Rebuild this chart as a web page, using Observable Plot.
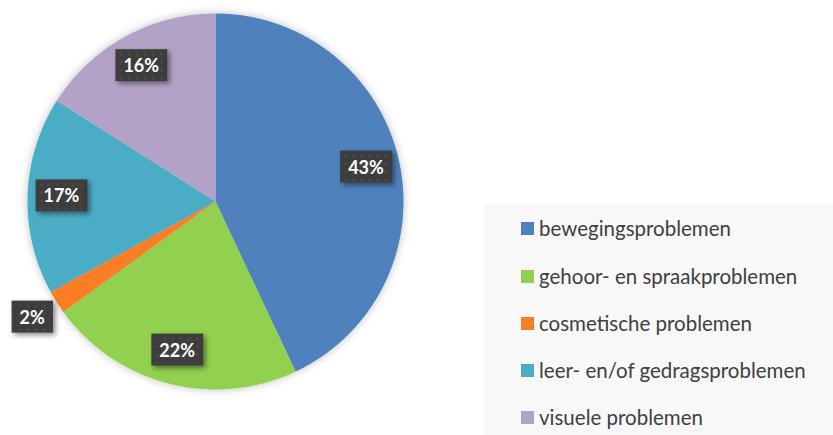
<!DOCTYPE html>
<html>
<head>
<meta charset="utf-8">
<script src="https://cdn.jsdelivr.net/npm/d3@7"></script>
<script src="https://cdn.jsdelivr.net/npm/@observablehq/plot@0.6"></script>
<style>
  html, body { margin: 0; padding: 0; background: #fff; }
  #wrap { position: relative; width: 833px; height: 435px; overflow: hidden; }
  #legend { position: absolute; left: 484px; top: 204px; width: 349px; height: 231px; background: #f8f8f8; font-family: Lato, "Open Sans", sans-serif; font-size: 20.5px; color: #404040; }
  .item { position: absolute; left: 37px; height: 24px; display: flex; align-items: center; white-space: nowrap; }
  .sw { width: 13px; height: 13px; margin-right: 5px; flex: none; }
</style>
</head>
<body>
<div id="wrap"><div id="chart"></div><div id="legend"></div></div>
<script>
const categories = ["bewegingsproblemen", "gehoor- en spraakproblemen", "cosmetische problemen", "leer- en/of gedragsproblemen", "visuele problemen"];
const values = [43, 22, 2, 17, 16];
const colors = ["#4f81bd", "#92d050", "#fb7d26", "#4bacc6", "#b3a2c7"];
const labels = ["43%", "22%", "2%", "17%", "16%"];

const total = d3.sum(values);
const slicePts = [];
const labelPts = [];
let acc = 0;
values.forEach((v, i) => {
  const a0 = acc / total * 2 * Math.PI;
  const a1 = (acc + v) / total * 2 * Math.PI;
  slicePts.push({cat: categories[i], x: 0, y: 0});
  const n = Math.max(4, Math.ceil((a1 - a0) / 0.01));
  for (let k = 0; k <= n; k++) {
    const a = a0 + (a1 - a0) * k / n;
    slicePts.push({cat: categories[i], x: Math.sin(a), y: Math.cos(a)});
  }
  const am = (a0 + a1) / 2;
  const rf = v < 5 ? 1.155 : 0.82;
  labelPts.push({cat: categories[i], text: labels[i], x: rf * Math.sin(am), y: rf * Math.cos(am)});
  acc += v;
});

const plot = Plot.plot({
  width: 833,
  height: 435,
  marginLeft: 27,
  marginRight: 430,
  marginTop: 13,
  marginBottom: 46,
  x: {domain: [-1, 1], axis: null},
  y: {domain: [-1, 1], axis: null},
  color: {domain: categories, range: colors},
  style: {background: "transparent", overflow: "visible"},
  marks: [
    Plot.line(slicePts, {x: "x", y: "y", z: "cat", fill: "cat", stroke: "none", curve: "linear-closed", className: "slices"}),
    Plot.text(labelPts, {x: "x", y: "y", text: "text", fill: "white", fontWeight: "bold", fontSize: 18, fontFamily: "Lato, 'Open Sans', sans-serif", className: "lbls"})
  ]
});
document.getElementById("chart").appendChild(plot);

// defs: pattern + shadows
const svg = d3.select(plot);
const defs = svg.insert("defs", ":first-child");
const pat = defs.append("pattern").attr("id", "dots").attr("width", 8).attr("height", 8).attr("patternUnits", "userSpaceOnUse");
pat.append("rect").attr("width", 8).attr("height", 8).attr("fill", "#3d3d3d");
pat.append("circle").attr("cx", 4).attr("cy", 4).attr("r", 1.6).attr("fill", "#494949");
const sh = defs.append("filter").attr("id", "shadow").attr("x", "-30%").attr("y", "-30%").attr("width", "170%").attr("height", "170%");
sh.append("feDropShadow").attr("dx", 2.5).attr("dy", 2.5).attr("stdDeviation", 2.5).attr("flood-color", "#000").attr("flood-opacity", 0.45);
const psh = defs.append("filter").attr("id", "pieshadow").attr("x", "-10%").attr("y", "-10%").attr("width", "120%").attr("height", "120%");
psh.append("feDropShadow").attr("dx", 0).attr("dy", 0).attr("stdDeviation", 4).attr("flood-color", "#000").attr("flood-opacity", 0.25);
svg.select("g.slices").attr("filter", "url(#pieshadow)");

svg.selectAll("g.lbls text").each(function() {
  const b = this.getBBox();
  const padX = 8, h = 32;
  const cy = b.y + b.height / 2;
  const r = d3.select(this.parentNode).insert("rect", () => this)
    .attr("x", b.x - padX).attr("y", cy - h / 2)
    .attr("width", b.width + 2 * padX).attr("height", h)
    .attr("fill", "url(#dots)").attr("filter", "url(#shadow)");
  const t = this.getAttribute("transform");
  if (t) r.attr("transform", t);
});

// legend
const lg = d3.select("#legend");
const rowY = [24, 72, 119, 166, 213];
categories.forEach((c, i) => {
  const it = lg.append("div").attr("class", "item").style("top", (rowY[i] - 12) + "px");
  it.append("div").attr("class", "sw").style("background", colors[i]);
  it.append("span").text(c);
});
</script>
</body>
</html>
